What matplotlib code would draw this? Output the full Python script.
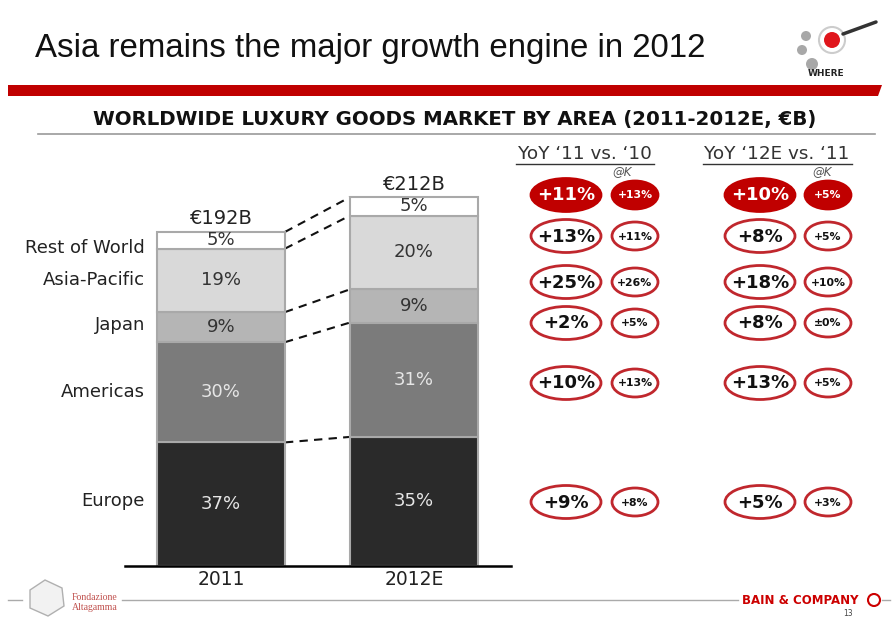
import matplotlib.pyplot as plt
from matplotlib.patches import Ellipse, Polygon, Circle

# ---------------------------------------------------------------------------
# Worldwide luxury goods market by area, 2011 vs 2012E (share of total, €B)
# ---------------------------------------------------------------------------
years = ["2011", "2012E"]
totals = [192, 212]
areas = ["Europe", "Americas", "Japan", "Asia-Pacific", "Rest of World"]
share_2011 = [37, 30, 9, 19, 5]
share_2012 = [35, 31, 9, 20, 5]

# YoY growth per row (first row = total market), current and constant FX (@K)
yoy_11_vs_10 = ["+11%", "+13%", "+25%", "+2%", "+10%", "+9%"]
yoy_11_vs_10_k = ["+13%", "+11%", "+26%", "+5%", "+13%", "+8%"]
yoy_12_vs_11 = ["+10%", "+8%", "+18%", "+8%", "+13%", "+5%"]
yoy_12_vs_11_k = ["+5%", "+5%", "+10%", "±0%", "+5%", "+3%"]

SEG_COLORS = ["#2a2a2a", "#7b7b7b", "#b5b5b5", "#d9d9d9", "#ffffff"]
SEG_TEXT = ["#e6e6e6", "#e6e6e6", "#333333", "#333333", "#333333"]
RED = "#c00000"
RING = "#c0272d"

W, H = 896, 617
fig = plt.figure(figsize=(W / 100, H / 100), dpi=100)

# pixel-space overlay for slide furniture
deco = fig.add_axes([0, 0, 1, 1])
deco.set_xlim(0, W)
deco.set_ylim(H, 0)
deco.axis("off")

# title + red band
deco.text(35, 49, "Asia remains the major growth engine in 2012", fontsize=23.8,
          family=["Liberation Sans Narrow", "Liberation Sans"], va="center", color="#111111")
deco.add_patch(Polygon([(8, 85), (882, 85), (878, 96), (8, 96)], closed=True,
                       facecolor=RED, edgecolor="none"))

# WHERE logo
for cx, cy, r in [(806, 36, 5), (802, 50, 5), (812, 64, 6)]:
    deco.add_patch(Circle((cx, cy), r, facecolor="#a8a8a8", edgecolor="none"))
deco.add_patch(Circle((832, 40), 13, facecolor="none", edgecolor="#cccccc", lw=1.5))
deco.add_patch(Circle((832, 40), 8, facecolor="#e0161c", edgecolor="none"))
deco.plot([843, 876], [34, 22], color="#333333", lw=2.5, solid_capstyle="round")
deco.text(826, 73, "WHERE", fontsize=6.5, fontweight="bold", ha="center", va="center",
          color="#222222")

# chart subtitle
deco.text(455, 120, "WORLDWIDE LUXURY GOODS MARKET BY AREA (2011-2012E, €B)",
          fontsize=14.2, fontweight="bold", ha="center", va="center", color="#111111")
deco.plot([38, 875], [134, 134], color="#9a9a9a", lw=1.2)

# column headers
for cx, head in [(585, "YoY ‘11 vs. ‘10"), (777, "YoY ‘12E vs. ‘11")]:
    deco.text(cx, 154, head, fontsize=13.2, ha="center", va="center", color="#333333")
deco.plot([516, 654], [164, 164], color="#333333", lw=1)
deco.plot([703, 852], [164, 164], color="#333333", lw=1)
for cx in [622, 822]:
    deco.text(cx, 172, "@K", fontsize=8.5, style="italic", ha="center", va="center",
              color="#555555")

# growth ellipses
row_y = [195, 236, 282, 323, 383, 502]
columns = [(566, 70, 33, 13, yoy_11_vs_10), (635, 46, 28, 7.8, yoy_11_vs_10_k),
           (760, 70, 33, 13, yoy_12_vs_11), (828, 46, 28, 7.8, yoy_12_vs_11_k)]
for cx, ew, eh, fs, vals in columns:
    for i, (y, v) in enumerate(zip(row_y, vals)):
        if i == 0:
            deco.add_patch(Ellipse((cx, y), ew, eh, facecolor=RED, edgecolor=RED, lw=2))
            tc = "white"
        else:
            deco.add_patch(Ellipse((cx, y), ew, eh, facecolor="white", edgecolor=RING, lw=2))
            tc = "#111111"
        deco.text(cx, y + 0.5, v, fontsize=fs, fontweight="bold", ha="center", va="center",
                  color=tc)

# footer
deco.plot([8, 22], [600, 600], color="#aaaaaa", lw=1)
deco.plot([122, 738], [600, 600], color="#aaaaaa", lw=1)
deco.plot([882, 890], [600, 600], color="#aaaaaa", lw=1)
deco.add_patch(Polygon([(30, 590), (45, 580), (62, 588), (64, 606), (48, 616), (30, 608)],
                       closed=True, facecolor="#f2f2f2", edgecolor="#b0b0b0", lw=1))
deco.text(72, 597, "Fondazione", fontsize=7, family="Liberation Serif", color="#c0504d",
          va="center")
deco.text(72, 608, "Altagamma", fontsize=7, family="Liberation Serif", color="#c0504d",
          va="center")
deco.text(800, 600, "BAIN & COMPANY", fontsize=8.5, fontweight="bold", ha="center",
          va="center", color="#cc0000")
deco.add_patch(Circle((874, 600), 6, facecolor="white", edgecolor="#cc0000", lw=1.5))
deco.text(848, 614, "13", fontsize=5.5, ha="center", va="center", color="#444444")

# ---------------------------------------------------------------------------
# stacked bars, height proportional to market size
# ---------------------------------------------------------------------------
ax = fig.add_axes([124.5 / W, (H - 566) / H, 386 / W, (240 * 1.74) / H])
ax.set_xlim(-0.5, 1.5)
ax.set_ylim(0, 240)
bar_w = 0.663
x_pos = [0, 1]

cum = []
for xi, total, shares in zip(x_pos, totals, [share_2011, share_2012]):
    bottom = 0.0
    tops = []
    for k, s in enumerate(shares):
        h = total * s / 100
        ax.bar(xi, h, bottom=bottom, width=bar_w, color=SEG_COLORS[k],
               edgecolor="#a9a9a9", linewidth=1.5, zorder=2)
        ax.text(xi, bottom + h / 2, f"{s}%", ha="center", va="center", fontsize=13,
                color=SEG_TEXT[k], zorder=3)
        bottom += h
        tops.append(bottom)
    cum.append(tops)
    ax.text(xi, total + 7.5, f"€{total}B", ha="center", va="center", fontsize=14,
            color="#222222")

# connectors between segment boundaries
for a, b in zip(cum[0], cum[1]):
    ax.plot([x_pos[0] + bar_w / 2, x_pos[1] - bar_w / 2], [a, b], color="#111111",
            lw=1.5, linestyle=(0, (4, 3)), zorder=1)

# area labels next to the 2011 bar (small nudges keep them off the segment edges)
label_nudge = {"Europe": 2.0, "Japan": 1.5, "Rest of World": -4.5}
bottom = 0.0
for name, s in zip(areas, share_2011):
    h = totals[0] * s / 100
    ax.text(-0.394, bottom + h / 2 + label_nudge.get(name, 0.0), name, ha="right",
            va="center", fontsize=13, color="#222222")
    bottom += h

ax.set_xticks(x_pos)
ax.set_xticklabels(years, fontsize=13.5, color="#222222")
ax.tick_params(axis="x", length=0, pad=3)
ax.set_yticks([])
for side in ["top", "left", "right"]:
    ax.spines[side].set_visible(False)
ax.spines["bottom"].set_linewidth(1.8)
ax.patch.set_alpha(0)

fig.savefig("out.png", dpi=100)
